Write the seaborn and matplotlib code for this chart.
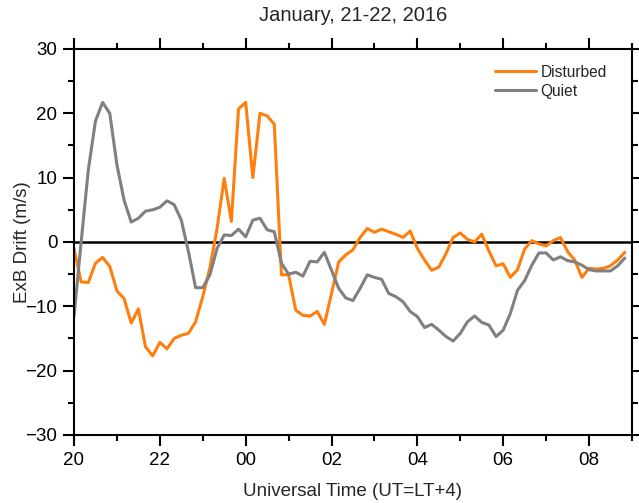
import numpy as np
import pandas as pd
import matplotlib
matplotlib.use("Agg")
import matplotlib.pyplot as plt
import seaborn as sns
from matplotlib.ticker import MultipleLocator

# 10-minute samples starting at 20 UT
ut_hours = 20 + np.arange(78) * 10 / 60

disturbed = [-1.1, -6.2, -6.3, -3.3, -2.4, -3.8, -7.6, -8.8, -12.6, -10.4,
             -16.3, -17.7, -15.6, -16.6, -15.0, -14.5, -14.2, -12.4, -8.5, -4.0,
             2.1, 9.9, 3.2, 20.7, 21.7, 10.0, 20.0, 19.6, 18.3, -5.1,
             -5.1, -10.6, -11.4, -11.5, -10.8, -12.8, -8.0, -3.1, -2.0, -1.2,
             0.7, 2.1, 1.5, 2.0, 1.6, 1.2, 0.7, 1.7, -1.0, -2.8,
             -4.4, -3.9, -1.8, 0.7, 1.4, 0.4, 0.0, 1.2, -1.4, -3.7,
             -3.4, -5.5, -4.3, -1.1, 0.2, -0.3, -0.6, 0.2, 0.7, -1.5,
             -2.8, -5.5, -4.1, -4.2, -4.1, -3.7, -2.8, -1.6]

quiet = [-11.6, 0.0, 11.2, 18.8, 21.7, 20.0, 12.0, 6.5, 3.1, 3.7,
         4.8, 5.0, 5.4, 6.4, 5.8, 3.4, -1.5, -7.1, -7.1, -5.1,
         -1.0, 1.1, 1.0, 2.0, 0.8, 3.4, 3.7, 1.9, 1.6, -3.3,
         -5.0, -4.7, -5.3, -3.0, -3.1, -1.6, -4.4, -7.2, -8.7, -9.1,
         -7.2, -5.1, -5.5, -5.8, -8.0, -8.5, -9.3, -10.8, -11.6, -13.3,
         -12.8, -13.7, -14.7, -15.4, -14.2, -12.4, -11.5, -12.5, -12.9, -14.7,
         -13.7, -11.1, -7.5, -6.0, -3.6, -1.7, -1.7, -2.8, -2.3, -2.9,
         -3.1, -3.6, -4.3, -4.5, -4.5, -4.5, -3.7, -2.5]

tick_pos = [20, 22, 24, 26, 28, 30, 32]
tick_labels = ["20", "22", "00", "02", "04", "06", "08"]

df = pd.concat([
    pd.DataFrame({"UT": ut_hours, "drift": disturbed, "day": "Disturbed"}),
    pd.DataFrame({"UT": ut_hours, "drift": quiet, "day": "Quiet"}),
])

sns.set_style("ticks")
plt.rcParams["font.family"] = ["Liberation Sans", "DejaVu Sans"]

fig = plt.figure(figsize=(6.39, 5.03), dpi=100)
ax = fig.add_axes([0.1158, 0.1352, 0.8732, 0.7674])

ax.axhline(0, color="black", linewidth=1.8, zorder=1.5)
sns.lineplot(data=df, x="UT", y="drift", hue="day",
             palette={"Disturbed": "#ff7f0e", "Quiet": "#808080"},
             linewidth=2.2, ax=ax)

ax.set_xlim(20, 33)
ax.set_ylim(-30, 30)
ax.set_xticks(tick_pos)
ax.set_xticklabels(tick_labels)
ax.xaxis.set_minor_locator(MultipleLocator(1))
ax.yaxis.set_major_locator(MultipleLocator(10))
ax.yaxis.set_minor_locator(MultipleLocator(5))

ax.tick_params(which="both", direction="out", top=True, right=True,
               width=1.5, labelsize=13.5, colors="black")
ax.tick_params(which="major", length=8, pad=4)
ax.tick_params(which="minor", length=4.5)
for s in ax.spines.values():
    s.set_visible(True)
    s.set_linewidth(1.5)
    s.set_color("black")

ax.set_xlabel("Universal Time (UT=LT+4)", fontsize=13.5, labelpad=10)
ax.set_ylabel("ExB Drift (m/s)", fontsize=13.5, labelpad=-4)
ax.set_title("January, 21-22, 2016", fontsize=14.5, pad=20)

ax.legend(title=None, loc="upper right", frameon=False, fontsize=11.2,
          handlelength=2.6, handletextpad=0.3, labelspacing=0.25,
          bbox_to_anchor=(0.966, 0.975), borderaxespad=0)

fig.savefig("out.png", dpi=100)
